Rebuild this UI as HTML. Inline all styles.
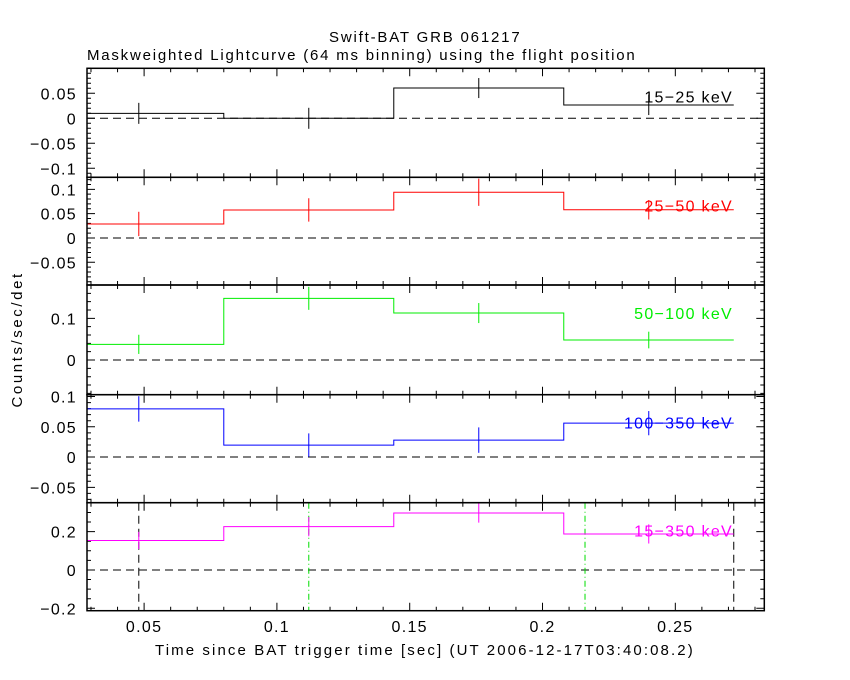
<!DOCTYPE html>
<html><head><meta charset="utf-8"><style>
html,body{margin:0;padding:0;background:#fff;}
svg{display:block;font-family:"Liberation Sans",sans-serif;}
svg text{letter-spacing:1.3px;}
</style></head><body>
<svg id="c" width="850" height="680" xmlns="http://www.w3.org/2000/svg">
<text x="425" y="42" text-anchor="middle" font-size="15" textLength="192">Swift-BAT GRB 061217</text>
<text x="87" y="60" font-size="15" textLength="549">Maskweighted Lightcurve (64 ms binning) using the flight position</text>
<text x="0" y="0" font-size="15" text-anchor="middle" textLength="135" transform="translate(22,340) rotate(-90)">Counts/sec/det</text>
<text x="155" y="655" font-size="15" textLength="539">Time since BAT trigger time [sec] (UT 2006-12-17T03:40:08.2)</text>
</svg>
<script>
const binEdges = [0.016, 0.08, 0.144, 0.208, 0.272];
const binCenters = [0.048, 0.112, 0.176, 0.24];
const xTicks = [0.05, 0.1, 0.15, 0.2, 0.25];
const xTickLabels = ["0.05", "0.1", "0.15", "0.2", "0.25"];
const bandLabels = ["15\u221225 keV", "25\u221250 keV", "50\u2212100 keV", "100\u2212350 keV", "15\u2212350 keV"];
const rates15_25 = [0.0099, 0.0, 0.0605, 0.0265];
const errs15_25 = [0.021, 0.021, 0.02, 0.02];
const rates25_50 = [0.0288, 0.0576, 0.094, 0.058];
const errs25_50 = [0.025, 0.024, 0.028, 0.02];
const rates50_100 = [0.0376, 0.148, 0.1127, 0.048];
const errs50_100 = [0.023, 0.0276, 0.024, 0.02];
const rates100_350 = [0.0795, 0.0198, 0.028, 0.056];
const errs100_350 = [0.021, 0.0193, 0.021, 0.02];
const rates15_350 = [0.154, 0.226, 0.297, 0.188];
const errs15_350 = [0.045, 0.05, 0.05, 0.05];
const yTicks1 = [-0.1, -0.05, 0, 0.05];
const yTickLabels1 = ["\u22120.1", "\u22120.05", "0", "0.05"];
const yTicks2 = [-0.05, 0, 0.05, 0.1];
const yTickLabels2 = ["\u22120.05", "0", "0.05", "0.1"];
const yTicks3 = [0, 0.1];
const yTickLabels3 = ["0", "0.1"];
const yTicks4 = [-0.05, 0, 0.05, 0.1];
const yTickLabels4 = ["\u22120.05", "0", "0.05", "0.1"];
const yTicks5 = [-0.2, 0, 0.2];
const yTickLabels5 = ["\u22120.2", "0", "0.2"];
const blackMarkers = [0.048, 0.272];
const greenMarkers = [0.112, 0.216];

const NS = "http://www.w3.org/2000/svg";
const svg = document.getElementById("c");
const X0 = 87, X1 = 764.3;
const T0 = 0.0285, T1 = 0.2835;
function xs(t){ return X0 + (t - T0) / (T1 - T0) * (X1 - X0); }
function mk(tag, attrs, parent){ const e = document.createElementNS(NS, tag); for (const k in attrs) e.setAttribute(k, attrs[k]); (parent||svg).appendChild(e); return e; }

const panels = [
 {top:68.3, bot:177.3, ymax:0.1, ymin:-0.118, minor:0.01, rates:rates15_25, errs:errs15_25, ticks:yTicks1, labels:yTickLabels1, color:"#000000", key:"15-25"},
 {top:177.3, bot:285, ymax:0.1247, ymin:-0.0967, minor:0.01, rates:rates25_50, errs:errs25_50, ticks:yTicks2, labels:yTickLabels2, color:"#ff0000", key:"25-50"},
 {top:285, bot:394.7, ymax:0.18, ymin:-0.0832, minor:0.02, rates:rates50_100, errs:errs50_100, ticks:yTicks3, labels:yTickLabels3, color:"#00ee00", key:"50-100"},
 {top:394.7, bot:502.7, ymax:0.103, ymin:-0.0754, minor:0.01, rates:rates100_350, errs:errs100_350, ticks:yTicks4, labels:yTickLabels4, color:"#0000ff", key:"100-350"},
 {top:502.7, bot:610.7, ymax:0.351, ymin:-0.2125, minor:0.05, rates:rates15_350, errs:errs15_350, ticks:yTicks5, labels:yTickLabels5, color:"#ff00ff", key:"15-350"}
];

panels.forEach((p, i) => {
  const g = mk("g", {});
  
  
  const ys = v => p.bot - (v - p.ymin) / (p.ymax - p.ymin) * (p.bot - p.top);
  let d = "";
  for (let t = 0.03; t <= 0.2835; t += 0.01) {
    const tt = Math.round(t*100)/100;
    const major = Math.abs(tt*20 - Math.round(tt*20)) < 1e-6;
    const L = major ? 8 : 4, x = xs(tt);
    d += `M${x} ${p.bot}v${-L}M${x} ${p.top}v${L}`;
  }
  const n0 = Math.ceil(p.ymin / p.minor), n1 = Math.floor(p.ymax / p.minor);
  for (let n = n0; n <= n1; n++) {
    const v = n * p.minor, y = ys(v);
    const major = p.ticks.some(t => Math.abs(t - v) < 1e-6);
    const L = major ? 8 : 4;
    d += `M${X0} ${y}h${L}M${X1} ${y}h${-L}`;
  }
  const tk = mk("path", {d: d, stroke:"#000", "stroke-width":1, fill:"none"}, g);
  
  
  p.ticks.forEach((v, j) => {
    const t = mk("text", {x: 77, y: ys(v) + 6, "text-anchor":"end", "font-size":16}, g);
    t.textContent = p.labels[j];
    
    
  });
  const z = mk("line", {x1:X0, x2:X1, y1:ys(0), y2:ys(0), stroke:"#000", "stroke-dasharray":"8,5"}, g);
  
  
  if (i === 4) {
    blackMarkers.forEach(t => {
      const l = mk("line", {x1:xs(t), x2:xs(t), y1:p.top, y2:p.bot, stroke:"#000", "stroke-dasharray":"8,5"}, g);
      
      
    });
    greenMarkers.forEach(t => {
      const l = mk("line", {x1:xs(t), x2:xs(t), y1:p.top, y2:p.bot, stroke:"#00dd00", "stroke-dasharray":"6,3,1,3"}, g);
      
      
    });
  }
  let s = "";
  p.rates.forEach((r, j) => {
    const xa = Math.max(xs(binEdges[j]), X0), xb = xs(binEdges[j+1]);
    s += (j === 0 ? `M${xa} ${ys(r)}` : `L${xa} ${ys(r)}`) + `L${xb} ${ys(r)}`;
  });
  const st = mk("path", {d:s, stroke:p.color, "stroke-width":1, fill:"none"}, g);
  
  
  p.rates.forEach((r, j) => {
    const x = xs(binCenters[j]);
    const e = mk("line", {x1:x, x2:x, y1:ys(r + p.errs[j]), y2:ys(r - p.errs[j]), stroke:p.color, "stroke-width":1}, g);
    
    
  });
  const lb = mk("text", {x:733, y:p.top + 34, "text-anchor":"end", "font-size":16, fill:p.color}, g);
  lb.textContent = bandLabels[i];
  
  
  const fr = mk("rect", {x:X0, y:p.top, width:X1-X0, height:p.bot-p.top, fill:"none", stroke:"#000", "stroke-width":1.5}, g);
  
  
});
xTicks.forEach((t, j) => {
  const tx = mk("text", {x:xs(t), y:632, "text-anchor":"middle", "font-size":16});
  tx.textContent = xTickLabels[j];
  
  
});
</script>
</body></html>
